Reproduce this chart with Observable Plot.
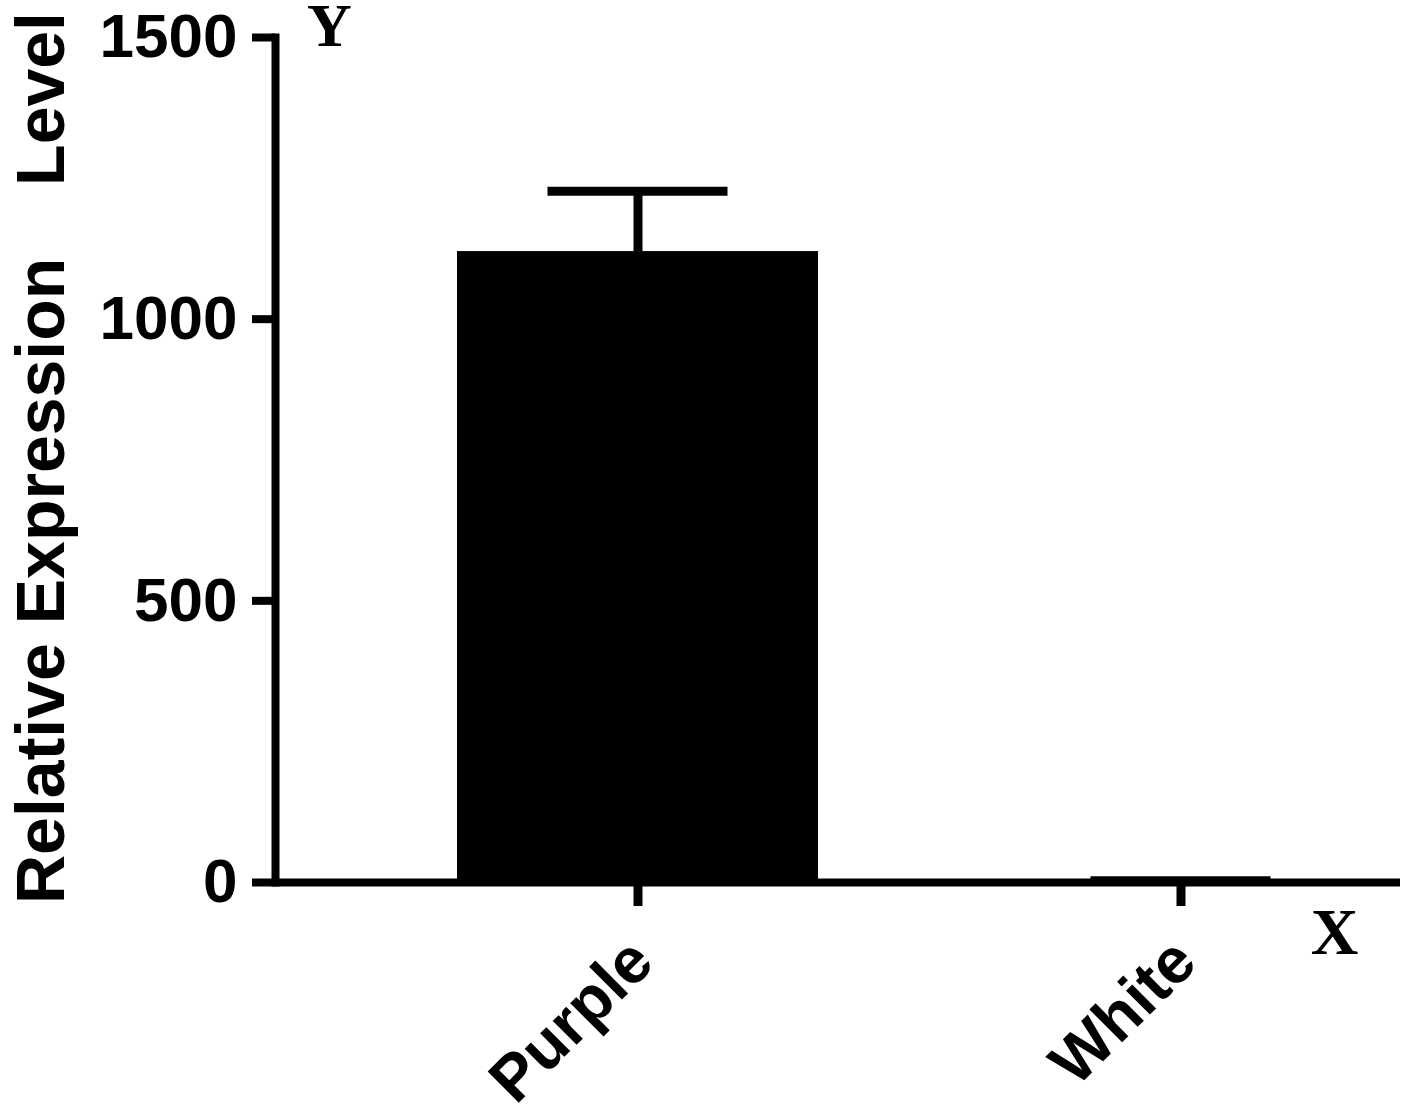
<!DOCTYPE html>
<html>
<head>
<meta charset="utf-8">
<script src="https://cdn.jsdelivr.net/npm/d3@7"></script>
<script src="https://cdn.jsdelivr.net/npm/@observablehq/plot@0.6"></script>
<style>
  html, body { margin: 0; padding: 0; background: #fff; }
  svg text { white-space: pre; }
</style>
</head>
<body>
<div id="chart"></div>
<script>
const groups = ["Purple", "White"];
const means = [1120, 1];
const sds = [107, 2];
const yTicks = [0, 500, 1000, 1500];
const yLabel = "Relative Expression \u2002 Level";
const axisLetters = ["Y", "X"];

const rows = groups.map((g, i) => ({group: g, mean: means[i], top: means[i] + sds[i]}));

const chart = Plot.plot({
  width: 1410,
  height: 1106,
  marginLeft: 275,
  marginTop: 37,
  marginBottom: 224,
  marginRight: 10,
  style: {fontFamily: "'Liberation Sans', Arial, sans-serif", fontWeight: "bold", background: "#fff", color: "#000"},
  x: {domain: groups, range: [275, 1543], paddingInner: 0.335, paddingOuter: 0.335},
  y: {domain: [0, 1500]},
  marks: [
    Plot.barY(rows, {x: "group", y: "mean", fill: "#000"}),
    Plot.ruleX(rows, {x: "group", y1: "mean", y2: "top", stroke: "#000", strokeWidth: 9}),
    Plot.tickY(rows, {x: "group", y: "top", stroke: "#000", strokeWidth: 9, insetLeft: 90.5, insetRight: 90.5}),
    Plot.ruleY([0], {stroke: "#000", strokeWidth: 8}),
    Plot.frame({anchor: "left", stroke: "#000", strokeWidth: 8}),
    Plot.axisY({ticks: yTicks, tickSize: 23, tickPadding: 15, fontSize: 62, strokeWidth: 8, label: null, tickFormat: d => String(d)}),
    Plot.axisX({tickSize: 24, text: null, strokeWidth: 9, label: null}),
    Plot.axisX({tickSize: 0, tickPadding: 68, tickRotate: -45, fontSize: 64, label: null, dx: 4}),
    Plot.text([yLabel], {text: d => d, frameAnchor: "left", textAnchor: "middle", rotate: -90, lineAnchor: "bottom", dx: -212, dy: -2, fontSize: 68, fontWeight: "bold", fill: "#000"}),
    Plot.text([axisLetters[0]], {text: d => d, frameAnchor: "top-left", textAnchor: "middle", lineAnchor: "bottom", dx: 54, dy: 8, fontSize: 62, fontFamily: "'Liberation Serif', 'Times New Roman', serif", fontWeight: "bold", fill: "#000"}),
    Plot.text([axisLetters[1]], {text: d => d, frameAnchor: "bottom-right", textAnchor: "middle", lineAnchor: "bottom", dx: -66, dy: 71, fontSize: 66, fontFamily: "'Liberation Serif', 'Times New Roman', serif", fontWeight: "bold", fill: "#000"})
  ]
});
document.getElementById("chart").appendChild(chart);
</script>
</body>
</html>
